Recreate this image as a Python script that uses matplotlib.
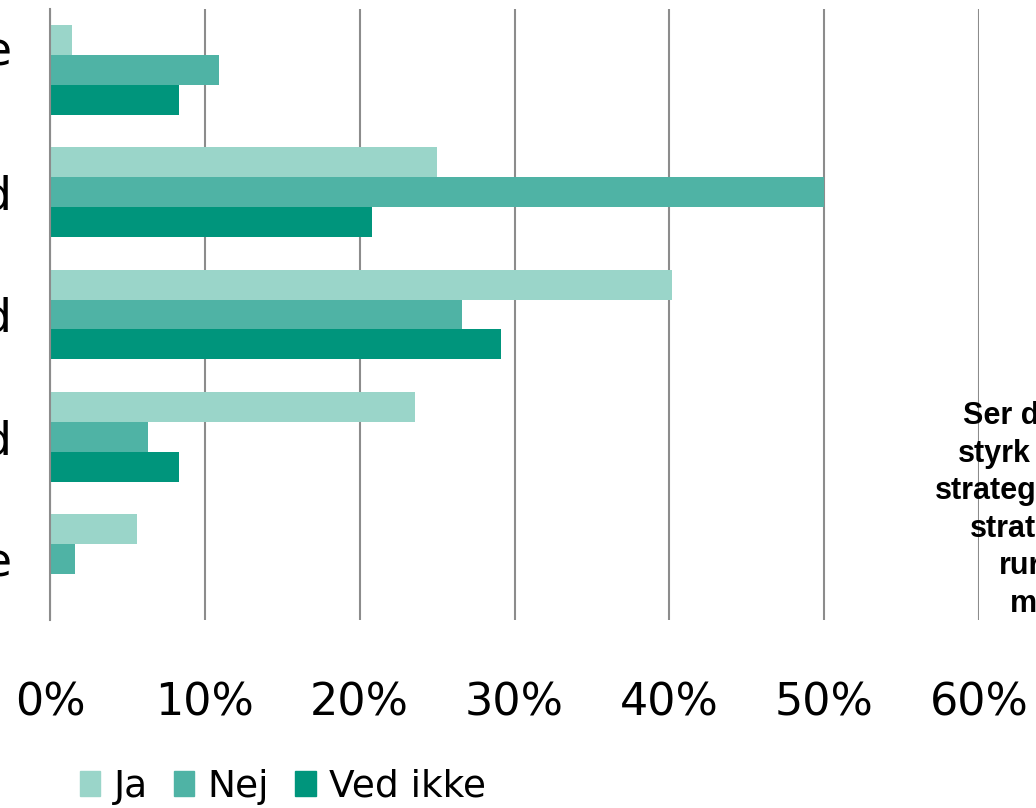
import numpy as np
import matplotlib.pyplot as plt
from matplotlib.patches import Patch

# categories top to bottom (only the last letters are visible in the crop)
categories = ["e\n", "d", "d", "d", "e"]
series = ["Ja", "Nej", "Ved ikke"]
ja = [1.4, 25.0, 40.2, 23.6, 5.6]
nej = [10.9, 50.0, 26.6, 6.3, 1.6]
ved_ikke = [8.3, 20.8, 29.1, 8.3, 0.0]
xticks = [0, 10, 20, 30, 40, 50, 60]
side_lines = ["Ser d", "styrk", "strateg", "strat", "rur", "m"]

colors = ["#9AD5C9", "#4FB3A5", "#00957C"]

fig = plt.figure(figsize=(10.36, 8.08), dpi=100)
ax = fig.add_axes([50 / 1036, 1 - 620 / 808, 929 / 1036, 611 / 808])

y = np.arange(len(categories))
h = 0.245
for i, (vals, col) in enumerate(zip([ja, nej, ved_ikke], colors)):
    ax.barh(y + (i - 1) * h, np.array(vals) / 100, height=h, color=col, zorder=2)

ax.set_ylim(len(categories) - 0.5, -0.5)
ax.set_xlim(0, 0.6)
ax.set_xticks([t / 100 for t in xticks])
ax.set_xticklabels([f"{t}%" for t in xticks], fontsize=32)
ax.set_yticks(y)
ax.set_yticklabels(categories, fontsize=34)
ax.tick_params(axis="x", length=0, pad=44)
ax.tick_params(axis="y", length=0, pad=28)
ax.grid(axis="x", color="#8c8c8c", linewidth=1.5, zorder=0)
for s in ["top", "right", "bottom"]:
    ax.spines[s].set_visible(False)
ax.spines["left"].set_color("#8c8c8c")
ax.spines["left"].set_linewidth(1.5)

handles = [Patch(color=c) for c in colors]
fig.legend(handles, series, loc="center", bbox_to_anchor=(0.273, 0.026), ncol=3,
           frameon=False, fontsize=27, handlelength=0.55, handleheight=0.65,
           handletextpad=0.35, columnspacing=0.7)

xs = [963, 958, 935, 970, 999, 1010]
for k, (txt, x0) in enumerate(zip(side_lines, xs)):
    fig.text(x0 / 1036, 1 - (424 + k * 37.6) / 808, txt, ha="left", va="baseline",
             fontsize=22, fontweight="bold", family="Liberation Sans")

fig.savefig("out.png", dpi=100)
